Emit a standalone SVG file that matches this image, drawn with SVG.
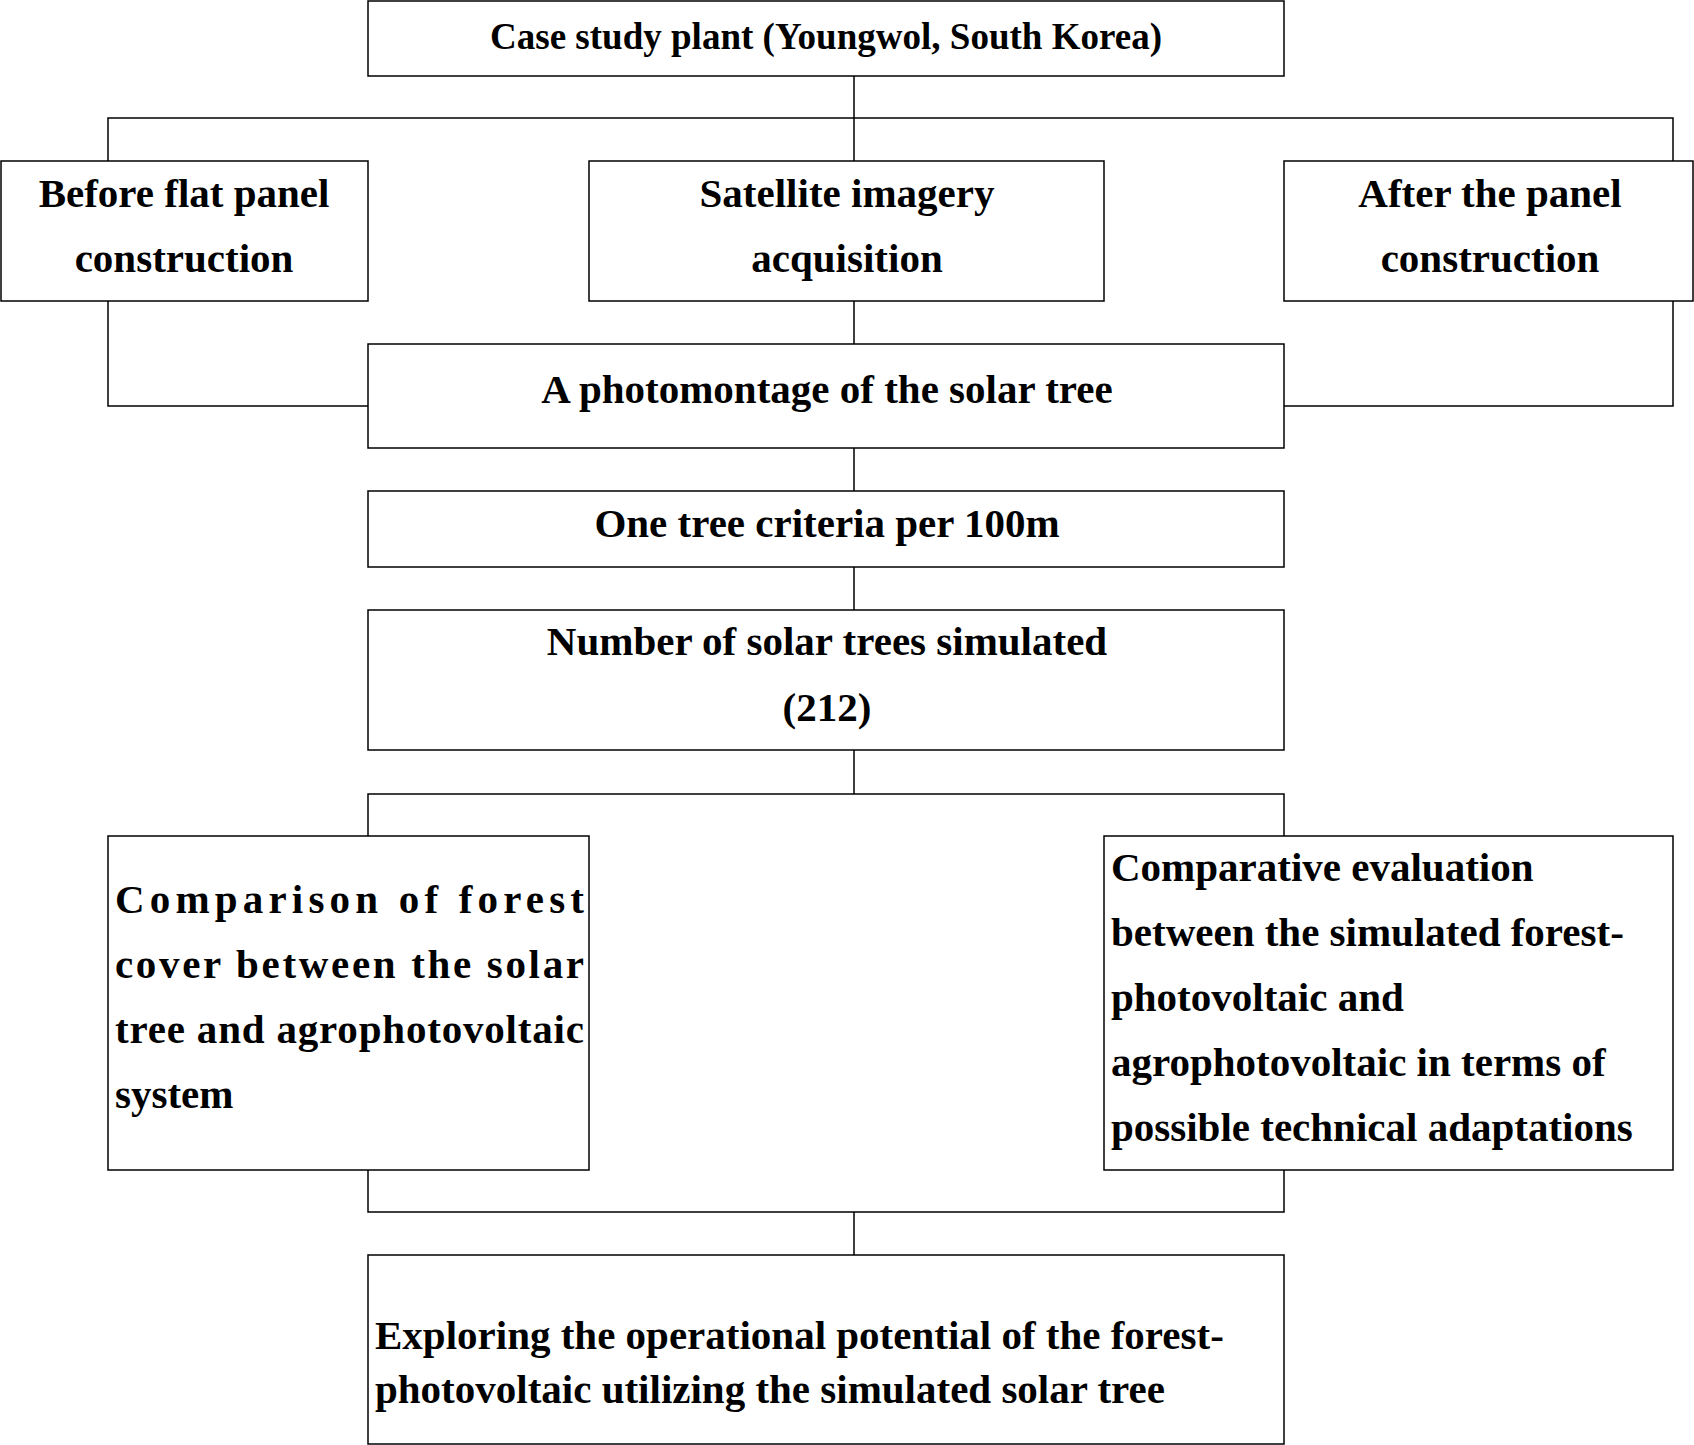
<svg xmlns="http://www.w3.org/2000/svg" width="1694" height="1445" viewBox="0 0 1694 1445">
<style>
rect{fill:#fff;stroke:#000;stroke-width:1.5}
text{font-family:"Liberation Serif","Times New Roman",serif;font-weight:bold;font-size:41px;fill:#000}
.c{text-anchor:middle}
#conn path{fill:none;stroke:#000;stroke-width:1.5}
</style>
<rect width="1694" height="1445" style="stroke:none"/>
<g id="conn">
<path d="M854 76V161M108 161V118H1673V161M108 301V406H368M1673 301V406H1284M854 301V344M854 448V491M854 567V610M854 750V794M368 836V794H1284V836M368 1170V1212H1284V1170M854 1212V1255"/>
</g>
<g id="top"><rect x="368" y="1" width="916" height="75"/><text class="c" x="826" y="49" style="font-size:37px" textLength="672" lengthAdjust="spacingAndGlyphs">Case study plant (Youngwol, South Korea)</text></g>
<g id="before"><rect x="1" y="161" width="367" height="140"/><text class="c" x="184" y="207">Before flat panel</text><text class="c" x="184" y="272">construction</text></g>
<g id="satellite"><rect x="589" y="161" width="515" height="140"/><text class="c" x="847" y="207">Satellite imagery</text><text class="c" x="847" y="272">acquisition</text></g>
<g id="after"><rect x="1284" y="161" width="409" height="140"/><text class="c" x="1490" y="207">After the panel</text><text class="c" x="1490" y="272">construction</text></g>
<g id="photo"><rect x="368" y="344" width="916" height="104"/><text class="c" x="827" y="403">A photomontage of the solar tree</text></g>
<g id="onetree"><rect x="368" y="491" width="916" height="76"/><text class="c" x="827" y="537">One tree criteria per 100m</text></g>
<g id="number"><rect x="368" y="610" width="916" height="140"/><text class="c" x="827" y="655">Number of solar trees simulated</text><text class="c" x="827" y="721">(212)</text></g>
<g id="comparison"><rect x="108" y="836" width="481" height="334"/>
<text x="115" y="913" textLength="469" lengthAdjust="spacing">Comparison of forest</text>
<text x="115" y="978" textLength="469" lengthAdjust="spacing">cover between the solar</text>
<text x="115" y="1043" textLength="469" lengthAdjust="spacing">tree and agrophotovoltaic</text>
<text x="115" y="1108">system</text></g>
<g id="comparative"><rect x="1104" y="836" width="569" height="334"/>
<text x="1111" y="881">Comparative evaluation</text>
<text x="1111" y="946">between the simulated forest-</text>
<text x="1111" y="1011">photovoltaic and</text>
<text x="1111" y="1076">agrophotovoltaic in terms of</text>
<text x="1111" y="1141">possible technical adaptations</text></g>
<g id="exploring"><rect x="368" y="1255" width="916" height="189"/>
<text x="375" y="1349">Exploring the operational potential of the forest-</text>
<text x="375" y="1403">photovoltaic utilizing the simulated solar tree</text></g>
</svg>
